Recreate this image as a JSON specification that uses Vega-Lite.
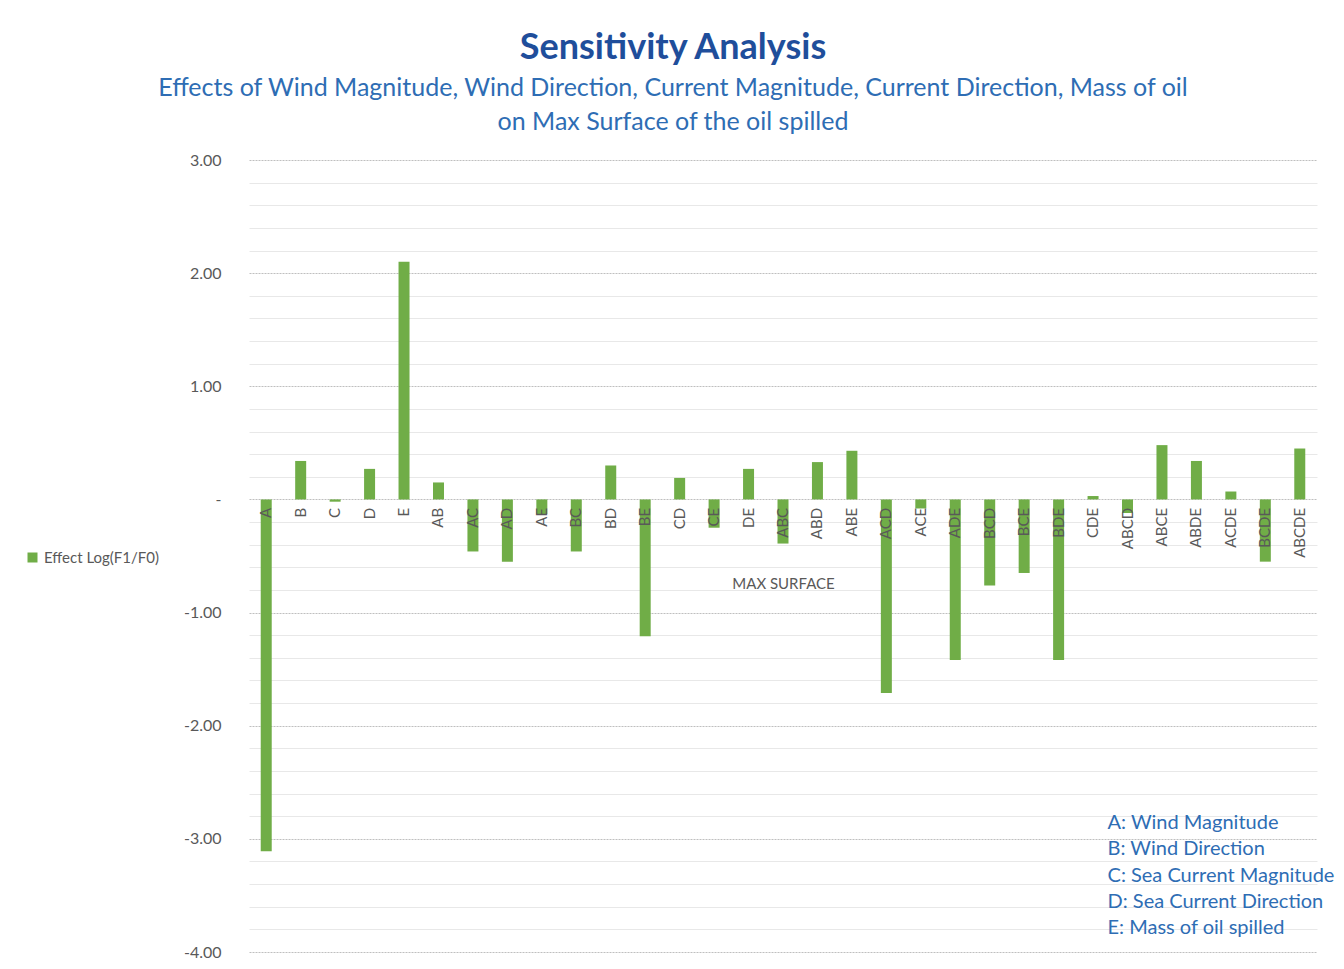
{
  "$schema": "https://vega.github.io/schema/vega-lite/v6.json",
  "width": 1068,
  "height": 792,
  "autosize": {"type": "none"},
  "padding": {"left": 249, "top": 160, "right": 27, "bottom": 17},
  "background": "white",
  "config": {"view": {"stroke": null}, "font": "Lato"},
  "title": {
    "text": "Sensitivity Analysis",
    "subtitle": ["Effects of Wind Magnitude, Wind Direction, Current Magnitude, Current Direction, Mass of oil", "on Max Surface of the oil spilled"],
    "anchor": "middle",
    "frame": "group",
    "dx": -110,
    "fontSize": 36,
    "fontWeight": "bold",
    "color": "#1F4E9B",
    "font": "Lato",
    "subtitleFont": "Lato",
    "subtitleFontSize": 25,
    "subtitleColor": "#2E6DB4",
    "subtitleLineHeight": 34,
    "subtitlePadding": 9,
    "offset": 16
  },
  "layer": [
    {
      "data": {
        "values": [
          {"term": "A", "effect": -3.11, "series": "Effect Log(F1/F0)"},
          {"term": "B", "effect": 0.34, "series": "Effect Log(F1/F0)"},
          {"term": "C", "effect": -0.02, "series": "Effect Log(F1/F0)"},
          {"term": "D", "effect": 0.27, "series": "Effect Log(F1/F0)"},
          {"term": "E", "effect": 2.10, "series": "Effect Log(F1/F0)"},
          {"term": "AB", "effect": 0.15, "series": "Effect Log(F1/F0)"},
          {"term": "AC", "effect": -0.46, "series": "Effect Log(F1/F0)"},
          {"term": "AD", "effect": -0.55, "series": "Effect Log(F1/F0)"},
          {"term": "AE", "effect": -0.13, "series": "Effect Log(F1/F0)"},
          {"term": "BC", "effect": -0.46, "series": "Effect Log(F1/F0)"},
          {"term": "BD", "effect": 0.30, "series": "Effect Log(F1/F0)"},
          {"term": "BE", "effect": -1.21, "series": "Effect Log(F1/F0)"},
          {"term": "CD", "effect": 0.19, "series": "Effect Log(F1/F0)"},
          {"term": "CE", "effect": -0.25, "series": "Effect Log(F1/F0)"},
          {"term": "DE", "effect": 0.27, "series": "Effect Log(F1/F0)"},
          {"term": "ABC", "effect": -0.39, "series": "Effect Log(F1/F0)"},
          {"term": "ABD", "effect": 0.33, "series": "Effect Log(F1/F0)"},
          {"term": "ABE", "effect": 0.43, "series": "Effect Log(F1/F0)"},
          {"term": "ACD", "effect": -1.71, "series": "Effect Log(F1/F0)"},
          {"term": "ACE", "effect": -0.08, "series": "Effect Log(F1/F0)"},
          {"term": "ADE", "effect": -1.42, "series": "Effect Log(F1/F0)"},
          {"term": "BCD", "effect": -0.76, "series": "Effect Log(F1/F0)"},
          {"term": "BCE", "effect": -0.65, "series": "Effect Log(F1/F0)"},
          {"term": "BDE", "effect": -1.42, "series": "Effect Log(F1/F0)"},
          {"term": "CDE", "effect": 0.03, "series": "Effect Log(F1/F0)"},
          {"term": "ABCD", "effect": -0.12, "series": "Effect Log(F1/F0)"},
          {"term": "ABCE", "effect": 0.48, "series": "Effect Log(F1/F0)"},
          {"term": "ABDE", "effect": 0.34, "series": "Effect Log(F1/F0)"},
          {"term": "ACDE", "effect": 0.07, "series": "Effect Log(F1/F0)"},
          {"term": "BCDE", "effect": -0.55, "series": "Effect Log(F1/F0)"},
          {"term": "ABCDE", "effect": 0.45, "series": "Effect Log(F1/F0)"}
        ]
      },
      "mark": {"type": "bar", "size": 11},
      "encoding": {
        "x": {
          "field": "term",
          "type": "nominal",
          "sort": null,
          "scale": {
            "domain": ["A", "B", "C", "D", "E", "AB", "AC", "AD", "AE", "BC", "BD", "BE", "CD", "CE", "DE", "ABC", "ABD", "ABE", "ACD", "ACE", "ADE", "BCD", "BCE", "BDE", "CDE", "ABCD", "ABCE", "ABDE", "ACDE", "BCDE", "ABCDE"],
            "paddingInner": 0,
            "paddingOuter": 0
          },
          "axis": {
            "title": "MAX SURFACE",
            "offset": -452.6,
            "labelAngle": 270,
            "labelAlign": "right",
            "labelBaseline": "middle",
            "labelPadding": 8,
            "ticks": false,
            "domain": false,
            "grid": false,
            "labelFontSize": 15,
            "labelColor": "#595959",
            "titleFontSize": 15,
            "titleFontWeight": "normal",
            "titleColor": "#595959",
            "titlePadding": 19,
            "zindex": 1
          }
        },
        "y": {
          "field": "effect",
          "type": "quantitative",
          "scale": {"domain": [-4, 3], "nice": false, "zero": false},
          "axis": {
            "title": null,
            "values": [-4, -3.8, -3.6, -3.4, -3.2, -3, -2.8, -2.6, -2.4, -2.2, -2, -1.8, -1.6, -1.4, -1.2, -1, -0.8, -0.6, -0.4, -0.2, 0, 0.2, 0.4, 0.6, 0.8, 1, 1.2, 1.4, 1.6, 1.8, 2, 2.2, 2.4, 2.6, 2.8, 3],
            "tickCount": 100,
            "labelOverlap": false,
            "labelExpr": "datum.value === 0 ? '-' : (abs(datum.value % 1) < 1e-9 ? replace(format(datum.value, '.2f'), '\u2212', '-') : '')",
            "grid": true,
            "gridColor": {"condition": {"test": "abs(datum.value % 1) < 1e-9", "value": "#BFBFBF"}, "value": "#E8E8E8"},
            "gridDash": {"condition": {"test": "abs(datum.value % 1) < 1e-9", "value": [2, 1]}, "value": []},
            "ticks": false,
            "domain": false,
            "labelPadding": 28,
            "labelFontSize": 16,
            "labelColor": "#595959",
            "zindex": 0
          }
        },
        "color": {
          "field": "series",
          "type": "nominal",
          "scale": {"range": ["#70AD47"]},
          "legend": {
            "title": null,
            "orient": "none",
            "legendX": -224,
            "legendY": 390,
            "symbolType": "square",
            "symbolSize": 100,
            "symbolStrokeWidth": 0,
            "labelFontSize": 15,
            "labelColor": "#595959"
          }
        }
      }
    },
    {
      "data": {
        "values": [
          {"label": "A: Wind Magnitude", "pos": -2.86},
          {"label": "B: Wind Direction", "pos": -3.09},
          {"label": "C: Sea Current Magnitude", "pos": -3.33},
          {"label": "D: Sea Current Direction", "pos": -3.56},
          {"label": "E: Mass of oil spilled", "pos": -3.79}
        ]
      },
      "mark": {"type": "text", "align": "left", "baseline": "middle", "dx": -20, "fontSize": 20, "color": "#2E6DB4", "font": "Lato"},
      "encoding": {
        "x": {"datum": "ABCD"},
        "y": {"field": "pos", "type": "quantitative"},
        "text": {"field": "label"}
      }
    }
  ]
}
